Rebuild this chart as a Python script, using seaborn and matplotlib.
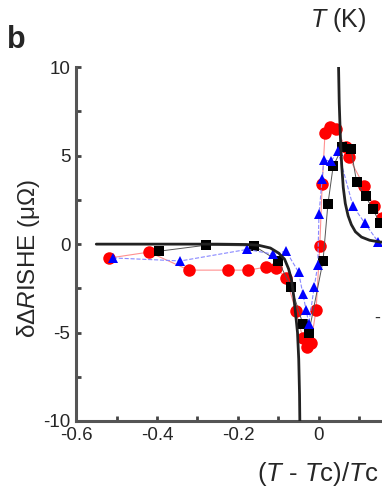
import numpy as np
import pandas as pd
import matplotlib
matplotlib.use("Agg")
import matplotlib.pyplot as plt
import seaborn as sns

# values
red_x = [-0.519, -0.420, -0.321, -0.225, -0.175, -0.131, -0.106, -0.081, -0.057, -0.040,
         -0.030, -0.020, -0.007, 0.002, 0.008, 0.015, 0.028, 0.042, 0.066, 0.074,
         0.111, 0.136, 0.155]
red_y = [-0.79, -0.45, -1.47, -1.47, -1.47, -1.30, -1.36, -1.90, -3.80, -5.30,
         -5.80, -5.60, -3.70, -0.10, 3.40, 6.30, 6.60, 6.50, 5.50, 4.90,
         3.30, 2.15, 1.50]

blue_x = [-0.509, -0.342, -0.178, -0.114, -0.081, -0.050, -0.040, -0.032, -0.025, -0.012,
          -0.003, 0.000, 0.008, 0.012, 0.030, 0.047, 0.084, 0.113, 0.147]
blue_y = [-0.78, -0.95, -0.30, -0.56, -0.40, -1.60, -2.80, -3.70, -4.50, -2.45,
          -1.20, 1.70, 3.70, 4.75, 4.70, 5.25, 2.15, 1.20, 0.10]

black_x = [-0.395, -0.279, -0.160, -0.101, -0.069, -0.040, -0.025, 0.010, 0.022, 0.035,
           0.058, 0.079, 0.093, 0.115, 0.133, 0.150]
black_y = [-0.40, -0.06, -0.10, -0.95, -2.40, -4.50, -5.00, -0.95, 2.25, 4.40,
           5.50, 5.40, 3.50, 2.70, 2.00, 1.20]

# fitted curve, two branches either side of Tc
fit_left_x = [-0.55, -0.25, -0.18, -0.15, -0.12, -0.10, -0.085, -0.075, -0.068, -0.062,
              -0.057, -0.053, -0.050, -0.048, -0.047]
fit_left_y = [0.0, 0.0, -0.02, -0.06, -0.22, -0.50, -0.85, -1.40, -2.00, -3.00,
              -4.10, -5.00, -6.50, -8.50, -10.5]
fit_right_x = [0.048, 0.050, 0.053, 0.056, 0.060, 0.065, 0.072, 0.080, 0.090, 0.105,
               0.125, 0.150, 0.165]
fit_right_y = [10.5, 8.0, 6.0, 4.5, 3.2, 2.3, 1.6, 1.1, 0.7, 0.4,
               0.22, 0.12, 0.10]

sns.set_style("ticks")
plt.rcParams["font.family"] = ["Liberation Sans", "DejaVu Sans"]
plt.rcParams["mathtext.fontset"] = "custom"
plt.rcParams["mathtext.rm"] = "Liberation Sans"
plt.rcParams["mathtext.it"] = "Liberation Sans:italic"

fig = plt.figure(figsize=(3.82, 4.94), dpi=100)
ax = fig.add_axes([0.199, 0.1478, 0.848, 0.716])

sns.lineplot(x=red_x, y=red_y, sort=False, ax=ax, color="#ff9090", lw=0.8,
             marker="o", markersize=9, markerfacecolor="#ff0000",
             markeredgecolor="#ff0000", markeredgewidth=0, zorder=2)
sns.lineplot(x=black_x, y=black_y, sort=False, ax=ax, color="#555555", lw=0.7,
             marker="s", markersize=7.5, markerfacecolor="black",
             markeredgecolor="black", markeredgewidth=0, zorder=3)
sns.lineplot(x=blue_x, y=blue_y, sort=False, ax=ax, color="#8888ff", lw=0.8,
             linestyle="--", marker="^", markersize=7.5, markerfacecolor="#0000ff",
             markeredgecolor="#0000ff", markeredgewidth=0, zorder=4)
sns.lineplot(x=fit_left_x, y=fit_left_y, sort=False, ax=ax, color="#222222", lw=2, zorder=5)
sns.lineplot(x=fit_right_x, y=fit_right_y, sort=False, ax=ax, color="#222222", lw=2, zorder=5)

ax.set_xlim(-0.6, 0.2)
ax.set_ylim(-10, 10)
ax.set_xticks([-0.6, -0.4, -0.2, 0])
ax.set_xticklabels(["-0.6", "-0.4", "-0.2", "0"])
ax.set_xticks([-0.5, -0.3, -0.1, 0.1], minor=True)
ax.set_yticks([-10, -5, 0, 5, 10])
ax.set_yticklabels(["-10", "-5", "0", "5", "10"])
ax.set_yticks([-7.5, -2.5, 2.5, 7.5], minor=True)
ax.tick_params(which="both", direction="in", length=3.5, width=2, color="#444444",
               labelsize=13.5, pad=4)

sns.despine(ax=ax, top=True, right=True)
for s in ["left", "bottom"]:
    ax.spines[s].set_linewidth(2.2)
    ax.spines[s].set_color("#555555")

ax.set_ylabel(r"δΔ$\mathit{R}$ISHE (μΩ)", fontsize=17.5, labelpad=2)
ax.yaxis.set_label_coords(-0.105, 0.46)
ax.set_xlabel("")

fig.text(257 / 382, 1 - 474 / 494, r"($\mathit{T}$ - $\mathit{T}$c)/$\mathit{T}$c",
         fontsize=18.5, ha="left", va="center")
fig.text(310 / 382, 1 - 20 / 494, r"$\mathit{T}$ (K)", fontsize=18, ha="left", va="center")
fig.text(7 / 382, 1 - 40 / 494, "b", fontsize=22, fontweight="bold", ha="left", va="center")
fig.text(374 / 382, 1 - 318 / 494, "-", fontsize=13, ha="left", va="center", color="#333333")

fig.savefig("out.png", dpi=100)
